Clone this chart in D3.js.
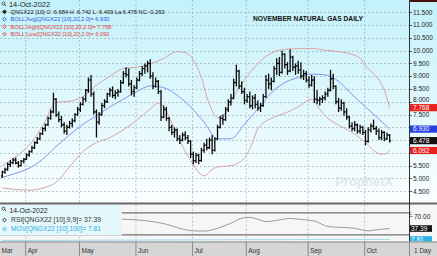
<!DOCTYPE html>
<html>
<head>
<meta charset="utf-8">
<script src="https://cdn.jsdelivr.net/npm/d3@7"></script>
<style>
  body { margin: 0; background: #fff; }
  svg { display: block; }
</style>
</head>
<body>
<svg id="chart"></svg>
<script>
const W = 437, H = 256;

// trading calendar (NYMEX), 21 Mar - 14 Oct 2022
const holidays = ["2022-04-15", "2022-05-30", "2022-06-20", "2022-07-04", "2022-09-05"];
const monthNames = ["Jan","Feb","Mar","Apr","May","Jun","Jul","Aug","Sep","Oct","Nov","Dec"];
const priceTicks = [4.5, 5, 5.5, 6, 6.5, 7, 7.5, 8, 8.5, 9, 9.5, 10, 10.5, 11, 11.5];

// daily OHLC, one entry per trading day
const opens = [5.10,5.25,5.35,5.55,5.62,5.72,5.60,5.50,5.68,5.75,5.92,6.05,6.20,6.40,6.55,6.75,6.95,7.10,7.35,7.60,
  8.10,7.50,7.30,7.10,6.85,7.00,7.15,7.25,7.50,7.70,7.90,8.10,8.45,8.85,8.30,7.60,7.20,7.50,7.85,8.00,
  8.30,8.45,8.25,8.35,8.40,8.75,9.10,9.05,8.70,8.40,8.55,8.85,9.10,9.30,9.40,9.50,9.00,8.60,8.80,8.40,
  7.40,7.70,7.35,7.00,6.80,6.90,6.55,6.50,6.70,6.60,6.45,5.95,5.70,5.90,5.70,6.10,6.30,6.20,6.50,6.10,
  6.55,7.00,7.35,7.30,7.70,8.00,8.15,8.75,9.20,8.60,8.40,8.05,8.20,7.85,8.15,7.90,7.75,7.85,8.20,8.85,
  8.70,8.80,9.30,9.50,9.15,9.85,9.45,9.20,9.75,9.35,9.40,9.25,9.00,9.10,8.85,8.65,8.85,8.10,8.05,8.10,
  8.15,8.30,8.45,8.90,8.60,8.00,7.75,7.95,7.60,7.40,7.05,6.95,7.10,6.85,7.00,6.80,6.45,6.90,7.05,6.95,
  6.85,6.60,6.80,6.55,6.684];
const highs = [5.30,5.42,5.62,5.72,5.80,5.82,5.68,5.72,5.80,5.98,6.10,6.28,6.45,6.62,6.80,7.00,7.15,7.42,7.70,8.35,
  8.15,7.62,7.45,7.20,7.10,7.25,7.35,7.55,7.80,7.98,8.20,8.50,8.95,9.05,8.40,7.70,7.60,7.95,8.10,8.35,
  8.55,8.60,8.45,8.50,8.85,9.20,9.35,9.30,8.85,8.65,8.95,9.20,9.40,9.50,9.60,9.66,9.15,8.95,8.85,8.45,
  7.85,7.80,7.40,7.10,7.00,6.95,6.70,6.80,6.85,6.70,6.50,6.05,6.00,5.98,6.20,6.40,6.55,6.60,6.70,6.60,
  7.10,7.45,7.50,7.80,8.10,8.30,8.90,9.45,9.25,8.80,8.55,8.30,8.40,8.25,8.30,8.05,7.95,8.30,9.05,9.10,
  8.95,9.40,9.70,9.75,10.00,9.90,9.55,10.05,9.80,9.50,9.60,9.55,9.25,9.20,9.00,9.05,9.00,8.45,8.20,8.25,
  8.40,8.55,9.25,9.10,8.65,8.15,8.10,8.00,7.75,7.45,7.20,7.25,7.15,7.10,7.05,6.90,7.00,7.15,7.30,7.05,
  6.95,6.90,6.85,6.80,6.742];
const lows = [5.02,5.18,5.30,5.45,5.55,5.55,5.42,5.48,5.58,5.72,5.85,6.00,6.15,6.35,6.50,6.70,6.85,7.05,7.30,7.55,
  7.40,7.20,7.00,6.75,6.70,6.95,7.00,7.20,7.45,7.60,7.85,8.00,8.35,8.20,7.50,6.60,7.10,7.45,7.75,7.95,
  8.20,8.15,8.10,8.20,8.35,8.70,8.95,8.60,8.25,8.20,8.50,8.80,9.00,9.10,9.15,8.90,8.50,8.55,8.30,7.25,
  7.35,7.25,6.85,6.70,6.60,6.45,6.35,6.45,6.50,6.35,5.80,5.55,5.60,5.55,5.65,6.00,6.10,6.15,5.95,6.05,
  6.50,6.95,7.10,7.25,7.60,7.85,8.10,8.60,8.50,8.30,7.90,7.95,7.75,7.70,7.75,7.65,7.60,7.80,8.15,8.50,
  8.45,8.75,9.05,9.00,9.10,9.30,9.05,9.15,9.20,9.05,9.10,8.90,8.85,8.75,8.55,8.60,7.95,7.90,7.85,7.95,
  8.05,8.20,8.40,8.50,7.90,7.60,7.65,7.45,7.30,6.95,6.85,6.85,6.75,6.75,6.70,6.30,6.40,6.80,6.90,6.70,
  6.50,6.50,6.45,6.50,6.409];
const closes = [5.25,5.35,5.55,5.62,5.72,5.60,5.50,5.68,5.75,5.92,6.05,6.20,6.40,6.55,6.75,6.95,7.10,7.35,7.60,8.10,
  7.50,7.30,7.10,6.85,7.00,7.15,7.25,7.50,7.70,7.90,8.10,8.45,8.85,8.30,7.60,7.20,7.50,7.85,8.00,8.30,
  8.45,8.25,8.35,8.40,8.75,9.10,9.05,8.70,8.40,8.55,8.85,9.10,9.30,9.40,9.50,9.00,8.60,8.80,8.40,7.40,
  7.70,7.35,7.00,6.80,6.90,6.55,6.50,6.70,6.60,6.45,5.95,5.70,5.90,5.70,6.10,6.30,6.20,6.50,6.10,6.55,
  7.00,7.35,7.30,7.70,8.00,8.15,8.75,9.20,8.60,8.40,8.05,8.20,7.85,8.15,7.90,7.75,7.85,8.20,8.85,8.70,
  8.80,9.30,9.50,9.15,9.85,9.45,9.20,9.75,9.35,9.40,9.25,9.00,9.10,8.85,8.65,8.85,8.10,8.05,8.10,8.15,
  8.30,8.45,8.90,8.60,8.00,7.75,7.95,7.60,7.40,7.05,6.95,7.10,6.85,7.00,6.80,6.45,6.90,7.05,6.95,6.85,
  6.60,6.80,6.55,6.70,6.478];

// Bollinger (20, 2.0) at these bar numbers
const avgIdx  = [0, 5, 10, 15, 20, 25, 30, 35, 40, 45, 50, 55, 60, 65, 70, 75, 80, 85, 90, 95, 100, 105, 110, 115, 120, 125, 130, 135, 140, 144];
const bollAvg = [5.04,5.20,5.40,5.75,6.25,6.70,7.12,7.45,7.80,8.10,8.40,8.62,8.55,8.25,7.80,7.20,6.55,6.55,7.12,7.72,8.35,8.75,8.95,9.08,9.05,8.80,8.28,7.80,7.32,6.93];
const highIdx  = [0, 5, 10, 15, 20, 25, 30, 35, 40, 45, 50, 55, 60, 65, 68, 70, 72, 74, 76, 78, 80, 82, 85, 88, 90, 95, 100, 105, 110, 115, 120, 125, 130, 133, 135, 138, 140, 142, 144];
const bollHigh = [5.50,5.85,6.30,7.05,7.98,8.02,8.20,8.65,9.00,9.30,9.35,9.48,9.70,9.96,9.92,9.78,9.45,8.95,8.20,7.65,7.38,7.45,8.00,8.55,8.85,9.50,9.90,10.05,10.08,10.08,10.02,9.96,9.85,9.70,9.40,9.10,8.85,8.45,7.768];
const lowIdx  = [0, 5, 10, 15, 20, 25, 30, 35, 40, 45, 50, 55, 58, 60, 62, 65, 70, 75, 78, 80, 85, 90, 93, 95, 100, 105, 110, 115, 116, 118, 120, 125, 130, 135, 140, 142, 144];
const bollLow = [4.63,4.57,4.54,4.62,4.85,5.45,6.05,6.40,6.60,6.90,7.28,7.72,7.95,7.80,7.40,6.70,5.70,5.10,5.35,5.45,5.50,5.80,6.40,6.95,7.35,7.55,7.80,8.10,8.00,7.70,7.45,7.08,6.80,6.40,5.97,5.95,6.092];

// lower study: RSI(9,9) and MOV(100)
const rsiIdx  = [44, 50, 56, 61, 66, 71, 75, 80, 85, 90, 92, 96, 98, 102, 107, 111, 116, 121, 126, 131, 136, 140, 144];
const rsiVals = [63, 61, 56, 49, 38, 31, 30.5, 38, 52, 67, 67.5, 60, 56, 59.5, 65, 62, 58, 43, 40.5, 38, 31, 35, 37.39];
const movIdx  = [0, 20, 40, 60, 80, 100, 120, 144];
const movVals = [4.9, 5.3, 5.8, 6.4, 6.8, 7.3, 7.7, 7.81];

const fmtDay = d3.timeFormat("%Y-%m-%d");
const days = d3.timeDay.range(new Date(2022, 2, 21), new Date(2022, 9, 15))
  .filter(d => d.getDay() > 0 && d.getDay() < 6 && !holidays.includes(fmtDay(d)));
const keys = days.map(fmtDay);

const plotRight = 409.5;
const mainBottom = 202.5;
const rsiTop = 204.5, rsiBottom = 241.5;

const x = d3.scaleBand().domain(keys).range([0.95, 391.05]);
const cx = i => x(keys[i]) + x.bandwidth() / 2;
const y = d3.scaleLinear([4.5, 11.5], [191.2, 12.3]);
const yr = d3.scaleLinear([0, 100], [242.3, 205.5]);

const svg = d3.select("#chart").attr("width", W).attr("height", H)
  .style("font-family", "'Liberation Sans', Arial, sans-serif");

const defs = svg.append("defs");
const grad = defs.append("linearGradient").attr("id", "bg")
  .attr("x1", 0).attr("y1", 0).attr("x2", 0).attr("y2", 1);
grad.append("stop").attr("offset", "0%").attr("stop-color", "#c3f1fa");
grad.append("stop").attr("offset", "100%").attr("stop-color", "#fbfeff");

// backgrounds
svg.append("rect").attr("width", W).attr("height", mainBottom).attr("fill", "url(#bg)");
svg.append("rect").attr("y", rsiTop).attr("width", W).attr("height", rsiBottom - rsiTop).attr("fill", "#f6f6f6");
svg.append("rect").attr("y", mainBottom).attr("width", W).attr("height", 2).attr("fill", "#666");
svg.append("rect").attr("x", plotRight).attr("width", W - plotRight).attr("height", 2).attr("fill", "#4a1010");

// month starts
const monthStarts = keys.map((k, i) => i).filter(i => i === 0 || days[i].getMonth() !== days[i - 1].getMonth());

// grid
const grid = svg.append("g").attr("stroke", "#93a3a6").attr("stroke-width", 0.6).attr("stroke-dasharray", "2,2");
grid.selectAll(".hg").data(priceTicks).join("line")
  .attr("x1", 0).attr("x2", plotRight).attr("y1", d => Math.round(y(d)) + 0.5).attr("y2", d => Math.round(y(d)) + 0.5);
grid.selectAll(".vg").data(monthStarts.slice(1)).join("line")
  .attr("x1", d => x(keys[d]) + 0.5).attr("x2", d => x(keys[d]) + 0.5)
  .attr("y1", 0).attr("y2", mainBottom);
grid.selectAll(".vr").data(monthStarts.slice(1)).join("line")
  .attr("x1", d => x(keys[d]) + 0.5).attr("x2", d => x(keys[d]) + 0.5)
  .attr("y1", rsiTop).attr("y2", rsiBottom);

// bands
const bandLine = d3.line().x(d => cx(d[0])).y(d => y(d[1])).curve(d3.curveMonotoneX);
svg.append("path").datum(d3.zip(highIdx, bollHigh)).attr("d", bandLine)
  .attr("fill", "none").attr("stroke", "#d9a4a6").attr("stroke-width", 1);
svg.append("path").datum(d3.zip(lowIdx, bollLow)).attr("d", bandLine)
  .attr("fill", "none").attr("stroke", "#d9a4a6").attr("stroke-width", 1);
svg.append("path").datum(d3.zip(avgIdx, bollAvg)).attr("d", bandLine)
  .attr("fill", "none").attr("stroke", "#7e98e6").attr("stroke-width", 1);

// OHLC bars
const bars = svg.append("g").attr("stroke", "#0a0a0a").attr("stroke-width", 1.3);
bars.selectAll(".hl").data(keys).join("line")
  .attr("x1", (d, i) => cx(i)).attr("x2", (d, i) => cx(i))
  .attr("y1", (d, i) => y(highs[i])).attr("y2", (d, i) => y(lows[i]));
bars.selectAll(".op").data(keys).join("line")
  .attr("x1", (d, i) => cx(i) - 1.4).attr("x2", (d, i) => cx(i))
  .attr("y1", (d, i) => y(opens[i])).attr("y2", (d, i) => y(opens[i]));
bars.selectAll(".cl").data(keys).join("line")
  .attr("x1", (d, i) => cx(i)).attr("x2", (d, i) => cx(i) + 1.4)
  .attr("y1", (d, i) => y(closes[i])).attr("y2", (d, i) => y(closes[i]));

// watermark
svg.append("text").attr("x", 393).attr("y", 186).attr("text-anchor", "end")
  .attr("font-size", 13).attr("font-weight", "bold").attr("fill", "#d6e0e2").attr("opacity", 0.7)
  .text("ProphetX");

// title
svg.append("text").attr("x", 253).attr("y", 20.5).attr("font-size", 6.6).attr("font-weight", "bold")
  .attr("fill", "#111").attr("textLength", 110).attr("lengthAdjust", "spacingAndGlyphs")
  .text("NOVEMBER NATURAL GAS DAILY");

// legend helpers
function magnifier(g, x0, y0, color) {
  g.append("circle").attr("cx", x0 + 2).attr("cy", y0 + 2).attr("r", 1.5)
    .attr("fill", "none").attr("stroke", color).attr("stroke-width", 0.8);
  g.append("line").attr("x1", x0 + 3).attr("y1", y0 + 3).attr("x2", x0 + 4.6).attr("y2", y0 + 4.6)
    .attr("stroke", color).attr("stroke-width", 0.9);
}
function diamond(g, x0, y0, color, filled) {
  g.append("path").attr("d", d3.symbol(d3.symbolSquare, 7)())
    .attr("transform", `translate(${x0},${y0}) rotate(45)`)
    .attr("fill", filled ? color : "none").attr("stroke", color).attr("stroke-width", 0.9);
}

const legend = svg.append("g");
magnifier(legend, 1.5, 1.5, "#333");
legend.append("text").attr("x", 9).attr("y", 7).attr("font-size", 7).attr("fill", "#222")
  .attr("textLength", 41).attr("lengthAdjust", "spacingAndGlyphs").text("14-Oct-2022");
const legendRows = [
  {t: "QNGX22 [10] O :6.684 H :6.742 L :6.409 La:6.478 NC:-0.263", c: "#111", w: 154, f: true},
  {t: "BOLL Avg[QNGX22 [10],20,2.0]= 6.930", c: "#3158e0", w: 99, f: false},
  {t: "BOLL High[QNGX22 [10],20,2.0]= 7.768", c: "#e04040", w: 101, f: false},
  {t: "BOLL Low[QNGX22 [10],20,2.0]= 6.092", c: "#e04040", w: 99, f: false}
];
legendRows.forEach((r, i) => {
  const yy = 11.8 + i * 7.45;
  diamond(legend, 4.5, yy, r.c, r.f);
  legend.append("text").attr("x", 10.5).attr("y", yy + 2.1).attr("font-size", 5.8).attr("fill", r.c)
    .attr("textLength", r.w).attr("lengthAdjust", "spacingAndGlyphs").text(r.t);
});

// lower study
svg.append("g").selectAll("line").data([80, 20]).join("line")
  .attr("x1", 0).attr("x2", plotRight).attr("y1", d => yr(d)).attr("y2", d => yr(d))
  .attr("stroke", "#707070").attr("stroke-width", 1.3);
const studyLine = d3.line().x(d => cx(d[0])).y(d => yr(d[1])).curve(d3.curveMonotoneX);
svg.append("path").datum(d3.zip(movIdx, movVals)).attr("d", studyLine)
  .attr("fill", "none").attr("stroke", "#9fd8ef").attr("stroke-width", 1);
svg.append("path").datum(d3.zip(rsiIdx, rsiVals)).attr("d", studyLine)
  .attr("fill", "none").attr("stroke", "#9b9b9b").attr("stroke-width", 1);

const rsiLegend = svg.append("g");
rsiLegend.append("rect").attr("x", 0).attr("y", rsiTop + 0.5).attr("width", 122).attr("height", 30.5)
  .attr("fill", "#e4f7fb");
magnifier(rsiLegend, 1.5, 206.5, "#333");
rsiLegend.append("text").attr("x", 9.5).attr("y", 212.5).attr("font-size", 7).attr("fill", "#222")
  .attr("textLength", 38).attr("lengthAdjust", "spacingAndGlyphs").text("14-Oct-2022");
diamond(rsiLegend, 4.5, 220, "#333", false);
rsiLegend.append("text").attr("x", 11).attr("y", 222.4).attr("font-size", 6.8).attr("fill", "#333")
  .attr("textLength", 90).attr("lengthAdjust", "spacingAndGlyphs").text("RSI[QNGX22 [10],9,9]= 37.39");
diamond(rsiLegend, 4.5, 229, "#35aee0", false);
rsiLegend.append("text").attr("x", 11).attr("y", 231.4).attr("font-size", 6.8).attr("fill", "#35aee0")
  .attr("textLength", 90).attr("lengthAdjust", "spacingAndGlyphs").text("MOV[QNGX22 [10],100]= 7.81");

// right price axis
const priceTags = [
  {v: 7.768, c: "#e8201e"},
  {v: 6.930, c: "#2440e0"},
  {v: 6.478, c: "#111111"},
  {v: 6.092, c: "#e8201e"}
];
const axis = svg.append("g");
axis.append("line").attr("x1", plotRight).attr("x2", plotRight).attr("y1", 0).attr("y2", H)
  .attr("stroke", "#333").attr("stroke-width", 1);
axis.selectAll(".tk").data(priceTicks).join("line")
  .attr("x1", plotRight).attr("x2", plotRight + 2.5)
  .attr("y1", d => Math.round(y(d)) + 0.5).attr("y2", d => Math.round(y(d)) + 0.5)
  .attr("stroke", "#333").attr("stroke-width", 0.8);
// tick labels that sit under a value tag are covered; ones just above it are nudged up
const tickLabels = priceTicks.map(v => {
  let ly = y(v);
  let hidden = false;
  priceTags.forEach(p => {
    const gap = y(p.v) - y(v);
    if (Math.abs(gap) < 4.5) hidden = true;
    else if (gap > 0 && gap < 8) ly = y(p.v) - 8;
  });
  return {v, ly, hidden};
}).filter(d => !d.hidden);
axis.selectAll(".lb").data(tickLabels).join("text")
  .attr("x", 413).attr("y", d => d.ly + 2.3).attr("font-size", 6.5).attr("fill", "#222")
  .text(d => d3.format(".3f")(d.v));

priceTags.forEach(p => {
  const yy = y(p.v);
  axis.append("rect").attr("x", plotRight + 0.5).attr("y", yy - 3.6).attr("width", 27).attr("height", 7.2).attr("fill", p.c);
  axis.append("text").attr("x", 413).attr("y", yy + 2.3).attr("font-size", 6.5).attr("fill", "#fff")
    .text(d3.format(".3f")(p.v));
});

// right study axis
[80, 75, 70].forEach(v => {
  axis.append("line").attr("x1", plotRight).attr("x2", plotRight + (v === 70 ? 3 : 2))
    .attr("y1", yr(v)).attr("y2", yr(v)).attr("stroke", "#333").attr("stroke-width", 0.6);
});
axis.append("text").attr("x", 414).attr("y", yr(70) + 2.3).attr("font-size", 6.5).attr("fill", "#222").text("70.00");
[{v: 37.39, c: "#111", t: "37.39"}, {v: 7.81, c: "#2fb4e6", t: "7.81"}].forEach(p => {
  const yy = yr(p.v);
  axis.append("rect").attr("x", plotRight + 0.5).attr("y", yy - 3.3).attr("width", 22).attr("height", 6.6).attr("fill", p.c);
  axis.append("text").attr("x", 411).attr("y", yy + 2.2).attr("font-size", 6.5).attr("fill", "#fff").text(p.t);
});

// time axis bar
const tAxis = svg.append("g");
tAxis.append("rect").attr("y", rsiBottom).attr("width", W).attr("height", H - rsiBottom).attr("fill", "#d6d6d6");
tAxis.append("line").attr("x1", 0).attr("x2", W).attr("y1", rsiBottom + 0.5).attr("y2", rsiBottom + 0.5)
  .attr("stroke", "#8a8a8a").attr("stroke-width", 1);
tAxis.selectAll(".sep").data(monthStarts.slice(1)).join("line")
  .attr("x1", d => x(keys[d]) + 0.5).attr("x2", d => x(keys[d]) + 0.5)
  .attr("y1", rsiBottom).attr("y2", H).attr("stroke", "#8a8a8a").attr("stroke-width", 1);
tAxis.selectAll(".ml").data(monthStarts).join("text")
  .attr("x", d => d === 0 ? 1.5 : x(keys[d]) + 2.5).attr("y", 253)
  .attr("font-size", 6.5).attr("fill", "#333")
  .text(d => monthNames[days[d].getMonth()]);
tAxis.append("line").attr("x1", plotRight).attr("x2", plotRight).attr("y1", rsiBottom).attr("y2", H)
  .attr("stroke", "#8a8a8a");
tAxis.append("text").attr("x", 414).attr("y", 253).attr("font-size", 6.5).attr("fill", "#333").text("1 Day");
</script>
</body>
</html>
